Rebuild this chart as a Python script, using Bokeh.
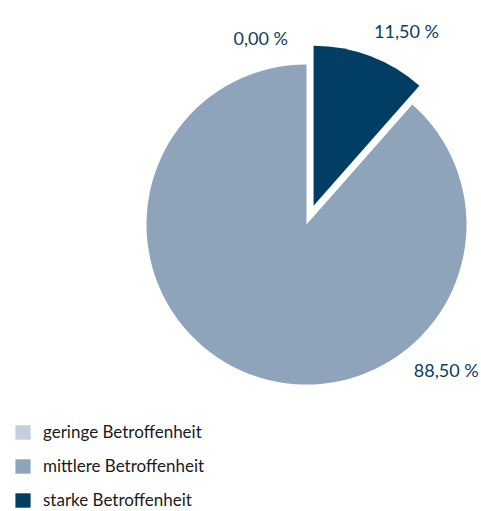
import math
from bokeh.plotting import figure
from bokeh.models import Range1d, ColumnDataSource, Legend, LegendItem
from bokeh.core.properties import value
from bokeh.embed import file_html
from bokeh.resources import INLINE

# ---- data ----
categories = ["geringe Betroffenheit", "mittlere Betroffenheit", "starke Betroffenheit"]
shares = [0.00, 88.50, 11.50]
value_labels = ["0,00 %", "88,50 %", "11,50 %"]
colors = ["#c4cedc", "#8fa3bb", "#023e63"]
explode = [0, 0, 20]
# label placement (styling): angle in degrees (math convention) and distance from centre
label_angle = [103.8, -46.2, 62.7]
label_dist = [192, 202, 218]

W, H = 481, 511
CX, CY, R = 306, 511 - 224, 160
FONT = "Lato"

p = figure(width=W, height=H, x_range=Range1d(0, W), y_range=Range1d(0, H),
           toolbar_location=None, output_backend="svg", min_border=0)
p.axis.visible = False
p.grid.visible = False
p.outline_line_color = None
p.background_fill_color = "white"

total = sum(shares)
start = math.pi / 2
xs, ys, sa, ea, cs = [], [], [], [], []
for s, e, c in zip(shares, explode, colors):
    ang = s / total * 2 * math.pi
    mid = start + ang / 2
    if s > 0:
        xs.append(CX + e * math.cos(mid))
        ys.append(CY + e * math.sin(mid))
        sa.append(start)
        ea.append(start + ang)
        cs.append(c)
    start += ang

src = ColumnDataSource(dict(x=xs, y=ys, sa=sa, ea=ea, color=cs))
p.wedge(x="x", y="y", radius=R, start_angle="sa", end_angle="ea", direction="anticlock",
        fill_color="color", line_color=None, source=src)

lx = [CX + d * math.cos(math.radians(a)) for a, d in zip(label_angle, label_dist)]
ly = [CY + d * math.sin(math.radians(a)) for a, d in zip(label_angle, label_dist)]
p.text(x=lx, y=ly, text=value_labels, text_align="center", text_baseline="middle",
       text_font=value(FONT), text_font_size="18px", text_color="#0b3c61")

nan = float("nan")
items = []
for cat, col in zip(categories, colors):
    r = p.quad(left=[nan], right=[nan], top=[nan], bottom=[nan], fill_color=col, line_color=None)
    items.append(LegendItem(label=cat, renderers=[r]))

legend = Legend(items=items, location=(13, 1), orientation="vertical",
                glyph_width=19, glyph_height=18, label_height=18, spacing=13,
                label_standoff=11, padding=0, margin=0, border_line_color=None,
                background_fill_alpha=0, label_text_font=FONT,
                label_text_font_size="17px", label_text_color="#1a1a1a")
p.add_layout(legend)

open("out.html", "w").write(file_html(p, INLINE))
